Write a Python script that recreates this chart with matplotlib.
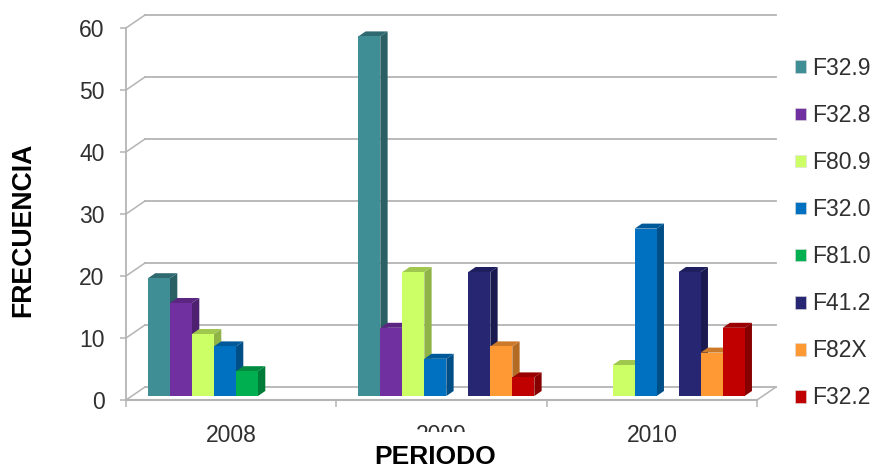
# Clustered column chart with a hand drawn 3D look (depth faces added as polygons)

import numpy as np
import matplotlib
matplotlib.use('Agg')
import matplotlib.pyplot as plt
from matplotlib.patches import Polygon
from matplotlib.transforms import Bbox

plt.rcParams['font.family']=['Liberation Sans','DejaVu Sans']

periods=['2008','2009','2010']
codes=['F32.9','F32.8','F80.9','F32.0','F81.0','F41.2','F82X','F32.2']
# 0 means the code has no cases in that period, no bar is drawn
f329=[19,58,0]
f328=[15,11,0]
f809=[10,20,5]
f320=[8,6,27]
f810=[4,0,0]
f412=[0,20,20]
f82x=[0,8,7]
f322=[0,3,11]
series=[f329,f328,f809,f320,f810,f412,f82x,f322]

# front, side, top
colors=[('#3F8D95','#2A5F63','#2F6A70'),
        ('#7030A0','#4E2070','#5A2682'),
        ('#CCFF66','#8FB347','#A0C84F'),
        ('#0070C0','#004E86','#005A9A'),
        ('#00B050','#007B38','#008A40'),
        ('#262673','#1A1A50','#1F1F60'),
        ('#FF9933','#B36B24','#CC7A29'),
        ('#C00000','#860000','#9A0000')]

W,H=872,468
X0,X1=126,757
Y0,Y1=400,28
GRID='#B4B4B4'
TXT='#303030'

fig=plt.figure(figsize=(W/100,H/100),dpi=100)
ax=fig.add_axes([X0/W,1-Y0/H,(X1-X0)/W,(Y0-Y1)/H])
ax.set_xlim(0,3)
ax.set_ylim(0,60)
for s in ax.spines.values():
    s.set_visible(False)

# pixel sizes expressed in data units
ux=3/(X1-X0)
uy=60/(Y0-Y1)
wall_dx,wall_dy=19*ux,13*uy
bar_dx,bar_dy=7.3*ux,5*uy
base_dy=4*uy
bar_w=22*ux

# back wall, left side and floor lines
yticks=np.arange(0,61,10)
for v in yticks:
    ax.plot([0,wall_dx],[v,v+wall_dy],color=GRID,lw=1.1,clip_on=False,zorder=1)
    ax.plot([wall_dx,3+wall_dx],[v+wall_dy,v+wall_dy],color=GRID,lw=1.3,clip_on=False,zorder=1)
ax.plot([3,3+wall_dx],[0,wall_dy],color=GRID,lw=1.1,clip_on=False,zorder=1)
ax.plot([0,3],[0,0],color=GRID,lw=1.5,clip_on=False,zorder=1)
ax.plot([0,0],[0,60],color=GRID,lw=1.3,clip_on=False,zorder=1)

handles=[]
for i,vals in enumerate(series):
    front,side,top=colors[i]
    z=3+i
    handles.append(plt.Rectangle((0,0),1,1,facecolor=front,edgecolor='#DDDDDD',lw=0.4))
    for p,v in enumerate(vals):
        if v==0:
            continue
        left=p+22*ux+i*bar_w
        right=left+bar_w
        ax.add_patch(Polygon([(right,base_dy),(right+bar_dx,base_dy+bar_dy),
                              (right+bar_dx,base_dy+v+bar_dy),(right,base_dy+v)],
                             closed=True,facecolor=side,edgecolor='none',clip_on=False,zorder=z))
        ax.add_patch(Polygon([(left,base_dy+v),(left+bar_dx,base_dy+v+bar_dy),
                              (right+bar_dx,base_dy+v+bar_dy),(right,base_dy+v)],
                             closed=True,facecolor=top,edgecolor='none',clip_on=False,zorder=z))
        ax.bar(left,v,width=bar_w,bottom=base_dy,align='edge',color=front,
               edgecolor='none',clip_on=False,zorder=z)

ax.set_xticks([0.5,1.5,2.5],periods)
ax.set_xticks([0,1,2,3],minor=True)
ax.tick_params(axis='x',which='major',length=0,pad=17,labelsize=16.5,labelcolor=TXT)
ax.tick_params(axis='x',which='minor',length=5,width=1.1,color=GRID)
ax.set_yticks(yticks)
ax.tick_params(axis='y',length=4.5,width=1.1,color=GRID,pad=11,labelsize=16.5,labelcolor=TXT)

# the middle period label is cut by the axis title below it
lbl=ax.get_xticklabels()[1]
lbl.set_clip_box(Bbox([[0,0],[W,H]]).translated(0,H-432))
lbl.set_clip_on(True)

fig.text(23/W,1-230/H,'FRECUENCIA',rotation=90,ha='center',va='center',
         fontsize=19.2,fontweight='bold',color='black')
fig.text(435.5/W,1-457.5/H,'PERIODO',ha='center',va='center',fontsize=19,fontweight='bold',
         color='black')

fig.legend(handles,codes,loc='upper left',bbox_to_anchor=(795/W,1-57/H),
           frameon=False,fontsize=16.5,handlelength=0.48,handleheight=0.48,
           handletextpad=0.27,labelspacing=1.05,borderpad=0,borderaxespad=0,labelcolor=TXT)

fig.savefig('out.png',dpi=100)
